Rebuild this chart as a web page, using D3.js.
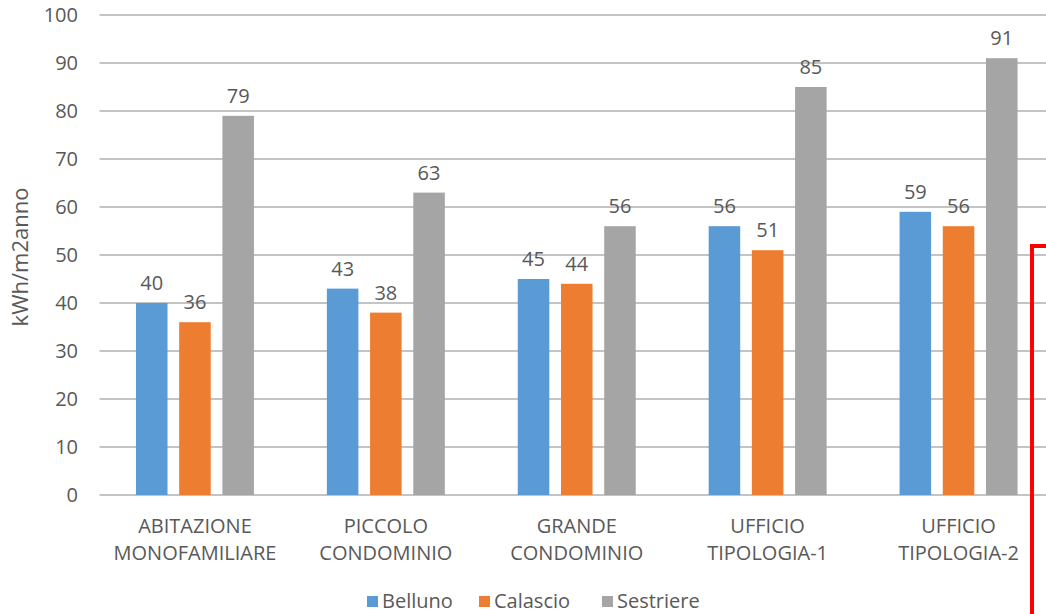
<!DOCTYPE html>
<html>
<head>
<meta charset="utf-8">
<script src="https://cdn.jsdelivr.net/npm/d3@7"></script>
<style>
  html, body { margin: 0; padding: 0; background: #fff; overflow: hidden; }
  svg { display: block; }
  text { font-family: "Open Sans", "DejaVu Sans", sans-serif; fill: #595959; }
</style>
</head>
<body>
<svg id="chart" width="1046" height="614"></svg>
<script>
// Categories (two-line labels) and series values, kWh/m2anno
const categories = [
  ["ABITAZIONE", "MONOFAMILIARE"],
  ["PICCOLO", "CONDOMINIO"],
  ["GRANDE", "CONDOMINIO"],
  ["UFFICIO", "TIPOLOGIA-1"],
  ["UFFICIO", "TIPOLOGIA-2"]
];
const seriesNames = ["Belluno", "Calascio", "Sestriere"];
const belluno   = [40, 43, 45, 56, 59];
const calascio  = [36, 38, 44, 51, 56];
const sestriere = [79, 63, 56, 85, 91];
const yTicks = [0, 10, 20, 30, 40, 50, 60, 70, 80, 90, 100];

const colors = ["#5b9bd5", "#ed7d31", "#a5a5a5"];
const seriesValues = [belluno, calascio, sestriere];

const svg = d3.select("#chart");
const margin = { left: 99.5, right: -8, top: 15, bottom: 119 };
const W = 1046, H = 614;

const x0 = d3.scaleBand()
  .domain(d3.range(categories.length))
  .range([margin.left, W - margin.right])
  .paddingInner(0.382)
  .paddingOuter(0.191);

const x1 = d3.scaleBand()
  .domain(seriesNames)
  .range([0, x0.bandwidth()])
  .paddingInner(0.27);

const y = d3.scaleLinear()
  .domain([0, 100])
  .range([H - margin.bottom, margin.top]);

// Horizontal gridlines
svg.append("g")
  .selectAll("line")
  .data(yTicks)
  .join("line")
  .attr("x1", margin.left)
  .attr("x2", W)
  .attr("y1", d => y(d))
  .attr("y2", d => y(d))
  .attr("stroke", "#c4c4c4")
  .attr("stroke-width", 2);

// Y axis tick labels
svg.append("g")
  .selectAll("text")
  .data(yTicks)
  .join("text")
  .attr("x", 78)
  .attr("y", d => y(d))
  .attr("dy", "0.36em")
  .attr("text-anchor", "end")
  .style("font-size", "20px")
  .text(d => d);

// Y axis title
svg.append("text")
  .attr("transform", `translate(28,${(y(0) + y(100)) / 2 + 2}) rotate(-90)`)
  .attr("text-anchor", "middle")
  .style("font-size", "22px")
  .text("kWh/m2anno");

// Bars grouped by category
const groups = svg.append("g")
  .selectAll("g")
  .data(categories.map((c, i) => i))
  .join("g")
  .attr("transform", i => `translate(${x0(i)},0)`);

groups.selectAll("rect")
  .data(i => seriesNames.map((s, k) => ({ s, k, v: seriesValues[k][i] })))
  .join("rect")
  .attr("x", d => x1(d.s))
  .attr("y", d => y(d.v))
  .attr("width", x1.bandwidth())
  .attr("height", d => y(0) - y(d.v))
  .attr("fill", d => colors[d.k]);

// Value labels above bars
groups.selectAll("text.val")
  .data(i => seriesNames.map((s, k) => ({ s, k, v: seriesValues[k][i] })))
  .join("text")
  .attr("class", "val")
  .attr("x", d => x1(d.s) + x1.bandwidth() / 2)
  .attr("y", d => y(d.v) - 13)
  .attr("text-anchor", "middle")
  .style("font-size", "20px")
  .text(d => d.v);

// Category labels (two lines)
const catLabels = svg.append("g")
  .selectAll("text")
  .data(categories)
  .join("text")
  .attr("text-anchor", "middle")
  .style("font-size", "20px")
  .attr("transform", (c, i) => `translate(${x0(i) + x0.bandwidth() / 2},0)`);

catLabels.selectAll("tspan")
  .data(c => c)
  .join("tspan")
  .attr("x", 0)
  .attr("y", (t, j) => 533 + j * 27)
  .text(t => t);

// Legend
const legendX = [367, 479, 602];
const legend = svg.append("g")
  .selectAll("g")
  .data(seriesNames)
  .join("g")
  .attr("transform", (s, k) => `translate(${legendX[k]},601)`);

legend.append("rect")
  .attr("x", 0)
  .attr("y", -5)
  .attr("width", 11)
  .attr("height", 11)
  .attr("fill", (s, k) => colors[k]);

legend.append("text")
  .attr("x", 15)
  .attr("y", 0)
  .attr("dy", "0.36em")
  .style("font-size", "20px")
  .text(s => s);

// Red highlight frame at right edge
svg.append("path")
  .attr("d", `M1050,246 H1032 V618`)
  .attr("fill", "none")
  .attr("stroke", "#ff0000")
  .attr("stroke-width", 4);
</script>
</body>
</html>
